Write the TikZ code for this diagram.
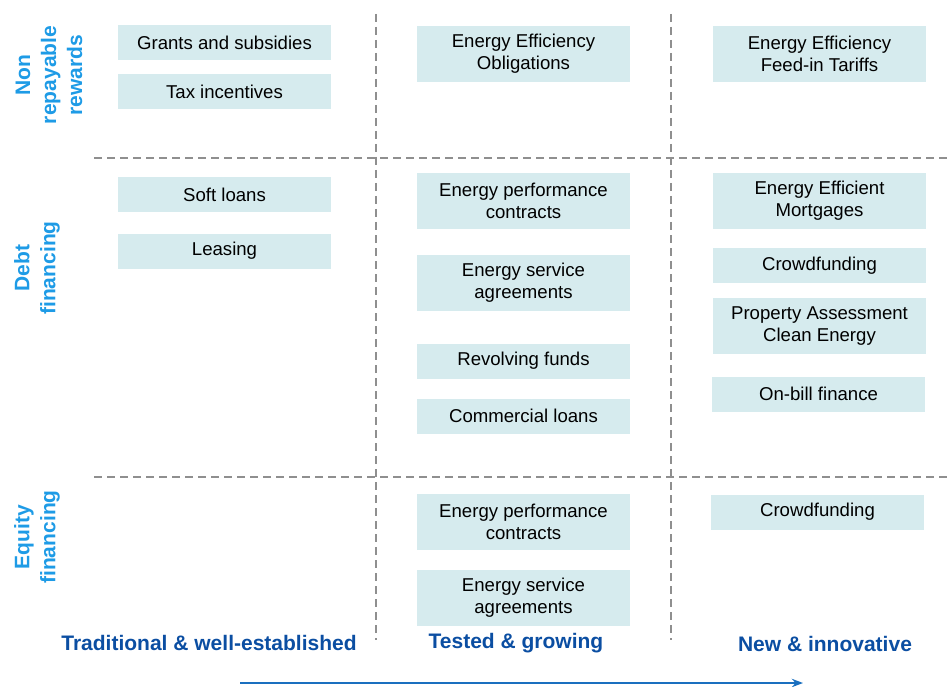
\documentclass[tikz,border=0pt]{standalone}
\usepackage{fontspec}
\setmainfont{Liberation Sans}
\usetikzlibrary{arrows.meta}

\definecolor{boxfill}{HTML}{D6EBEE}
\definecolor{rowblue}{HTML}{1E9BE6}
\definecolor{colblue}{HTML}{0B4EA2}
\definecolor{arrowblue}{HTML}{1A6FBF}
\definecolor{gridgray}{HTML}{8F8F8F}

\tikzset{
  fbox/.style={fill=boxfill,minimum width=213pt,minimum height=35pt,inner sep=0pt,
    align=center,font=\fontsize{18.6}{22}\selectfont},
  fboxtall/.style={fbox,minimum height=56pt},
  rowlabel/.style={rotate=90,align=center,text=rowblue,
    font=\fontsize{21}{26}\selectfont\bfseries},
  collabel/.style={text=colblue,font=\fontsize{21}{24}\selectfont\bfseries},
  grid/.style={draw=gridgray,line width=2.5pt,dash pattern=on 8pt off 5pt}
}

\begin{document}
\begin{tikzpicture}[x=1pt,y=-1pt,>=Stealth]

\useasboundingbox (0,0) rectangle (950,687);

% dashed grid
\foreach \xx in {376,671}{
  \draw[grid] (\xx,14)--(\xx,640);
}
\foreach \yy in {158,477}{
  \draw[grid] (94,\yy)--(950,\yy);
}

% row labels
\node[rowlabel] (nonrep) at (49,75) {Non\\repayable\\rewards};
\node[rowlabel] (debt) at (37,268) {Debt\\financing};
\node[rowlabel] (equity) at (37,537) {Equity\\financing};

% traditional
\node[fbox] (grants) at (224.5,43) {Grants and subsidies};
\node[fbox] (tax) at (224.5,92) {Tax incentives};
\node[fbox] (soft) at (224.5,195) {Soft loans};
\node[fbox] (leasing) at (224.5,251) {Leasing};

% tested
\node[fboxtall] (eeo) at (523.5,54) {Energy Efficiency\\Obligations};
\node[fboxtall] (epc) at (523.5,201) {Energy performance\\contracts};
\node[fboxtall] (esa) at (523.5,283) {Energy service\\agreements};
\node[fbox] (revolving) at (523.5,361) {Revolving funds};
\node[fbox] (commercial) at (523.5,416) {Commercial loans};
\node[fboxtall] (epceq) at (523.5,522) {Energy performance\\contracts};
\node[fboxtall] (esaeq) at (523.5,598) {Energy service\\agreements};

% new
\node[fboxtall] (eefit) at (819.5,54) {Energy Efficiency\\Feed-in Tariffs};
\node[fboxtall] (eem) at (819.5,201) {Energy Efficient\\Mortgages};
\node[fbox] (crowd) at (819.5,265.5) {Crowdfunding};
\node[fboxtall] (pace) at (819.5,326) {Property Assessment\\Clean Energy};
\node[fbox] (onbill) at (818.5,394) {On-bill finance};
\node[fbox] (crowdeq) at (817.5,512) {Crowdfunding};

% column labels
\node[collabel] (trad) at (209,643) {Traditional \& well-established};
\node[collabel] (tested) at (516,643) {Tested \& growing};
\node[collabel] (newinn) at (825,644) {New \& innovative};

\coordinate (arrs) at (240,683);
\coordinate (arre) at (803,683);
\draw[->,draw=arrowblue,line width=1.8pt] (arrs)--(arre);

\end{tikzpicture}
\end{document}
